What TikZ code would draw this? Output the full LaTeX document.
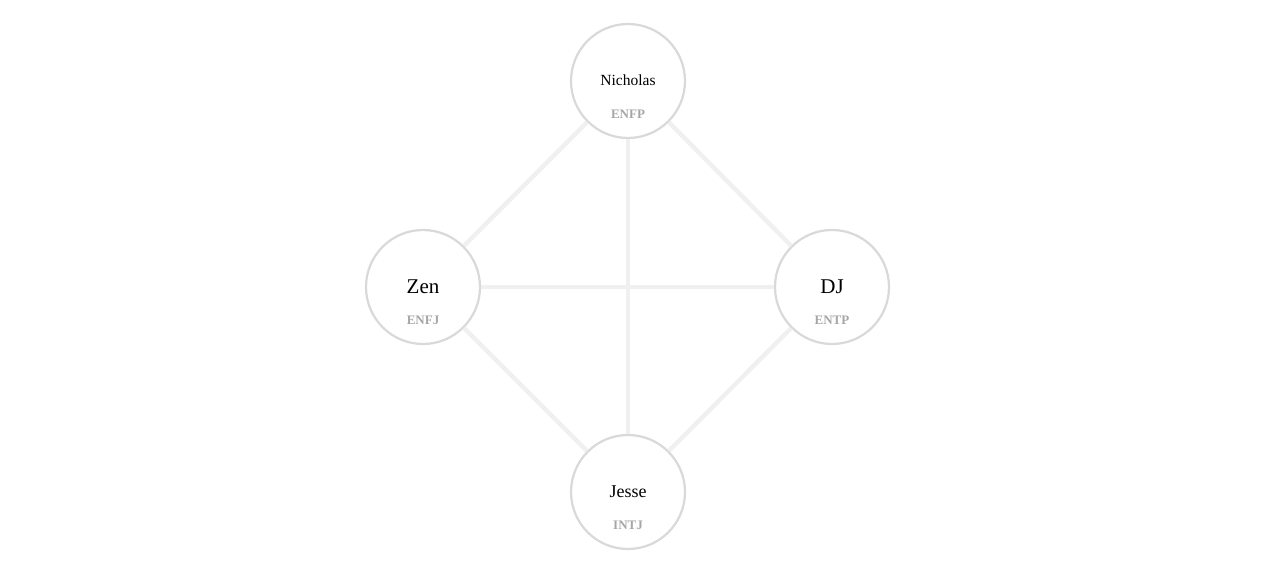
\documentclass[tikz,border=0pt]{standalone}
\usepackage{fontspec}
\setmainfont{Liberation Serif}
\begin{document}
\begin{tikzpicture}[x=1pt,y=-1pt,
  person/.style={circle,draw=black!15,line width=2.2pt,fill=white,minimum size=114pt,inner sep=0pt},
  link/.style={draw=black!6,line width=4.5pt},
  mbti/.style={font=\bfseries\fontsize{13}{13}\selectfont,text=black!35},
  pname/.style={text=black}]
\useasboundingbox (0,0) rectangle (1264,572);
\node[person] (nic) at (628,81) {};
\node[person] (zen) at (423,287) {};
\node[person] (dj) at (832,287) {};
\node[person] (jes) at (628,492) {};
\draw[link] (nic) -- (zen);
\draw[link] (nic) -- (dj);
\draw[link] (nic) -- (jes);
\draw[link] (zen) -- (dj);
\draw[link] (zen) -- (jes);
\draw[link] (dj) -- (jes);
\node[pname,font=\fontsize{15.5}{15.5}\selectfont,anchor=base] (nict) at (628,86) {Nicholas};
\node[mbti,anchor=base] (nicm) at (628,119) {ENFP};
\node[pname,font=\fontsize{21}{21}\selectfont,anchor=base] (zent) at (423,293) {Zen};
\node[mbti,anchor=base] (zenm) at (423,324) {ENFJ};
\node[pname,font=\fontsize{21}{21}\selectfont,anchor=base] (djt) at (832,293) {DJ};
\node[mbti,anchor=base] (djm) at (832,324) {ENTP};
\node[pname,font=\fontsize{18}{18}\selectfont,anchor=base] (jest) at (628,497) {Jesse};
\node[mbti,anchor=base] (jesm) at (628,529) {INTJ};
\end{tikzpicture}
\end{document}
